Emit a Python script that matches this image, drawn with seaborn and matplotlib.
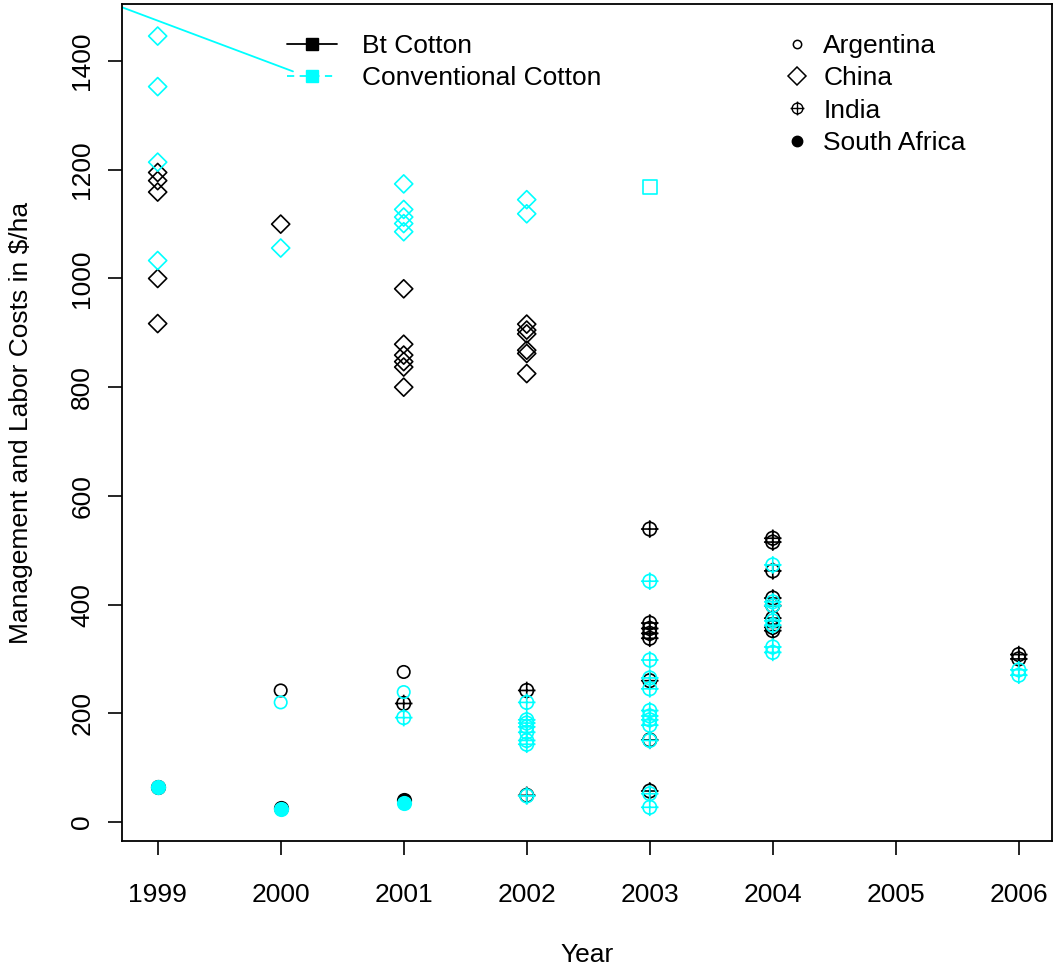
import numpy as np
import pandas as pd
import matplotlib
matplotlib.use("Agg")
import matplotlib.pyplot as plt
from matplotlib.path import Path
from matplotlib.lines import Line2D
import seaborn as sns

# ---------------- data ----------------
arg_bt_year = [2000, 2001]
arg_bt_val = [242, 276]
arg_cv_year = [2000, 2001]
arg_cv_val = [220, 239]

chn_bt_year = [1999, 1999, 1999, 1999, 1999, 2000, 2001, 2001, 2001, 2001, 2001, 2001,
               2002, 2002, 2002, 2002, 2002, 2002]
chn_bt_val = [1195, 1180, 1159, 1000, 917, 1100, 981, 879, 859, 847, 837, 800,
              916, 905, 898, 868, 862, 825]
chn_cv_year = [1999, 1999, 1999, 1999, 2000, 2001, 2001, 2001, 2001, 2001, 2002, 2002]
chn_cv_val = [1446, 1353, 1214, 1033, 1056, 1174, 1127, 1113, 1101, 1086, 1145, 1119]

ind_bt_year = [2001, 2002, 2002, 2003, 2003, 2003, 2003, 2003, 2003, 2003, 2003,
               2004, 2004, 2004, 2004, 2004, 2004, 2004, 2004, 2006, 2006]
ind_bt_val = [218, 242, 49, 539, 366, 356, 347, 338, 260, 151, 57,
              522, 515, 462, 412, 398, 375, 358, 352, 308, 300]
ind_cv_year = [2001, 2002, 2002, 2002, 2002, 2002, 2002, 2002, 2002,
               2003, 2003, 2003, 2003, 2003, 2003, 2003, 2003, 2003, 2003, 2003,
               2004, 2004, 2004, 2004, 2004, 2004, 2004, 2006, 2006]
ind_cv_val = [192, 220, 188, 182, 175, 165, 150, 143, 48,
              443, 298, 265, 245, 205, 195, 188, 178, 150, 52, 27,
              473, 405, 398, 370, 362, 322, 312, 280, 270]

saf_bt_year = [1999, 2000, 2001]
saf_bt_val = [65, 25, 40]
saf_cv_year = [1999, 2000, 2001]
saf_cv_val = [64, 24, 35]

oth_cv_year = [2003]
oth_cv_val = [1168]

# stray line seen in the original
stray_x = [1998.71, 2000.10]
stray_y = [1499, 1381]

years = [1999, 2000, 2001, 2002, 2003, 2004, 2005, 2006]
yticks = [0, 200, 400, 600, 800, 1000, 1200, 1400]
countries = ["Argentina", "China", "India", "South Africa"]
treatments = ["Bt Cotton", "Conventional Cotton"]

rows = []
def add(country, treat, ys, vs):
    for y, v in zip(ys, vs):
        rows.append(dict(country=country, treatment=treat, year=y, value=v))

add("Argentina", "Bt Cotton", arg_bt_year, arg_bt_val)
add("Argentina", "Conventional Cotton", arg_cv_year, arg_cv_val)
add("China", "Bt Cotton", chn_bt_year, chn_bt_val)
add("China", "Conventional Cotton", chn_cv_year, chn_cv_val)
add("India", "Bt Cotton", ind_bt_year, ind_bt_val)
add("India", "Conventional Cotton", ind_cv_year, ind_cv_val)
add("South Africa", "Bt Cotton", saf_bt_year, saf_bt_val)
add("South Africa", "Conventional Cotton", saf_cv_year, saf_cv_val)
add("Other", "Conventional Cotton", oth_cv_year, oth_cv_val)
df = pd.DataFrame(rows)

# ---------------- style ----------------
sns.set_theme(style="ticks")
plt.rcParams["font.family"] = ["Liberation Sans", "DejaVu Sans"]
for k in ["text.color", "axes.labelcolor", "xtick.color", "ytick.color", "axes.edgecolor"]:
    plt.rcParams[k] = "black"

colors = {"Bt Cotton": "black", "Conventional Cotton": "#00FFFF"}

# circle-with-cross marker for India
circ = Path.unit_circle()
cross_v = np.array([[-1.3, 0], [1.3, 0], [0, -1.3], [0, 1.3]])
cross_c = [Path.MOVETO, Path.LINETO, Path.MOVETO, Path.LINETO]
oplus = Path(np.vstack([circ.vertices, cross_v]),
             list(circ.codes) + cross_c)

marker_spec = {
    "Argentina": dict(marker="o", s=80, open=True),
    "China": dict(marker="D", s=85, open=True),
    "India": dict(marker=oplus, s=160, open=True),
    "South Africa": dict(marker="o", s=95, open=False),
    "Other": dict(marker="s", s=95, open=True),
}

fig = plt.figure(figsize=(10.53, 9.72), dpi=100)
ax = fig.add_axes([122 / 1053, 1 - 841 / 972, (1052 - 122) / 1053, (841 - 4) / 972])

for treat in treatments:
    col = colors[treat]
    for c in ["Argentina", "China", "India", "South Africa", "Other"]:
        sub = df[(df.country == c) & (df.treatment == treat)]
        if sub.empty:
            continue
        spec = marker_spec[c]
        sns.scatterplot(data=sub, x="year", y="value", marker=spec["marker"],
                        s=spec["s"], color=col, linewidth=1.2, ax=ax, legend=False)
        coll = ax.collections[-1]
        if spec["open"]:
            coll.set_facecolor("none")
            coll.set_edgecolor(col)
        else:
            coll.set_facecolor(col)
            coll.set_edgecolor(col)

sns.lineplot(x=stray_x, y=stray_y, color="#00FFFF", linewidth=1.3, ax=ax, legend=False)

ax.set_xlim(1998.71, 2006.27)
ax.set_ylim(-35, 1505)
ax.set_xticks(years)
ax.set_xticklabels([str(y) for y in years], fontsize=19)
ax.set_yticks(yticks)
ax.set_yticklabels([str(v) for v in yticks], fontsize=19, rotation=90, va="center")
ax.tick_params(axis="both", direction="out", length=10, width=1.2, color="black", pad=10)
ax.tick_params(axis="x", pad=20)
for sp in ax.spines.values():
    sp.set_visible(True)
    sp.set_color("black")
    sp.set_linewidth(1.3)
ax.set_xlabel("Year", fontsize=19, labelpad=26)
ax.set_ylabel("Management and Labor Costs in \\$/ha", fontsize=19, labelpad=27)
ax.grid(False)

# treatment legend
h1 = [Line2D([0], [0], color="black", lw=1.3, marker="s", markersize=9,
             markerfacecolor="black", markeredgecolor="black"),
      Line2D([0], [0], color="#00FFFF", lw=1.3, ls=(0, (4, 3)), marker="s", markersize=9,
             markerfacecolor="#00FFFF", markeredgecolor="#00FFFF")]
leg1 = ax.legend(h1, treatments, loc="upper left", bbox_to_anchor=(0.166, 0.977),
                 frameon=False, fontsize=19, handlelength=1.9, handletextpad=0.95,
                 labelspacing=0.32, borderaxespad=0)
ax.add_artist(leg1)

h2 = [Line2D([0], [0], ls="none", marker="o", markersize=6, markerfacecolor="none",
             markeredgecolor="black", markeredgewidth=1.1),
      Line2D([0], [0], ls="none", marker="D", markersize=9, markerfacecolor="none",
             markeredgecolor="black", markeredgewidth=1.1),
      Line2D([0], [0], ls="none", marker=oplus, markersize=10, markerfacecolor="none",
             markeredgecolor="black", markeredgewidth=1.0),
      Line2D([0], [0], ls="none", marker="o", markersize=7.5, markerfacecolor="black",
             markeredgecolor="black")]
leg2 = ax.legend(h2, countries, loc="upper left", bbox_to_anchor=(0.7, 0.977),
                 frameon=False, fontsize=19, handlelength=1.0, handletextpad=0.5,
                 labelspacing=0.32, borderaxespad=0)

fig.savefig("out.png", dpi=100)
